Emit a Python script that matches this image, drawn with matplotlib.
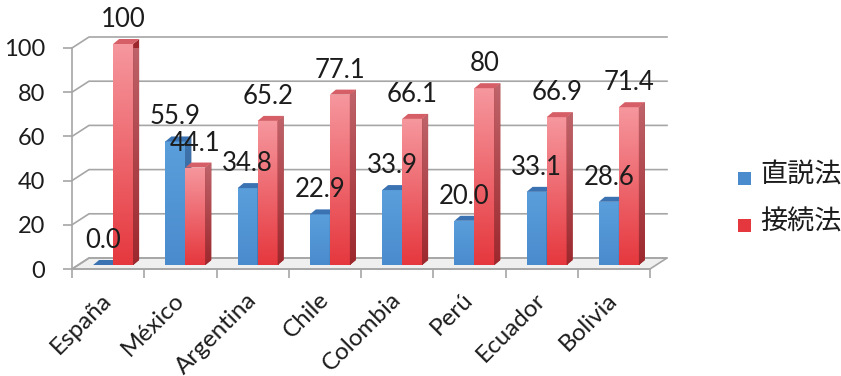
import numpy as np
import matplotlib
matplotlib.use("Agg")
import matplotlib.pyplot as plt
from matplotlib.transforms import ScaledTranslation, IdentityTransform
from matplotlib.patches import Polygon, Rectangle
from matplotlib.lines import Line2D
from matplotlib.colors import LinearSegmentedColormap

# ---- data -------------------------------------------------------------
countries = ["España", "México", "Argentina", "Chile", "Colombia", "Perú", "Ecuador", "Bolivia"]
indicativo = [0.0, 55.9, 34.8, 22.9, 33.9, 20.0, 33.1, 28.6]
subjuntivo = [100, 44.1, 65.2, 77.1, 66.1, 80, 66.9, 71.4]
series_names = ["直説法", "接続法"]
y_ticks = [0, 20, 40, 60, 80, 100]

plt.rcParams["font.family"] = ["Lato", "Noto Sans CJK JP", "DejaVu Sans"]

W, H, DPI = 841, 376, 100
GRID = "#a6a6a6"
TEXT = "#1c1c1c"
FS = 18.5

# front face colours (bottom, top), side face colours (bottom, top), top face
STYLE = [
    dict(front=("#4a8bcd", "#5a9fdc"), side=("#335f92", "#3f74ad"), top="#3b73b2"),
    dict(front=("#e5383e", "#f6979e"), side=("#9c282d", "#c0646b"), top="#d65e66"),
]

fig = plt.figure(figsize=(W / DPI, H / DPI), dpi=DPI)
ax = fig.add_axes([72 / W, 107 / H, 578 / W, 221 / H])
ax.set_xlim(-0.5, len(countries) - 0.5)
ax.set_ylim(0, 100)
ax.set_autoscale_on(False)
ax.patch.set_visible(False)

DEPTH = (17, 11)      # full depth of the 3-D box, pixels
FRONT = (5, 4)        # where the bar front faces sit inside the box
BAR_D = (6, 5)        # thickness of each bar
BAR_W = 0.277


def shifted(dx, dy):
    return ax.transData + ScaledTranslation(dx / DPI, dy / DPI, fig.dpi_scale_trans)


def to_px(x, y, dx=0.0, dy=0.0):
    px, py = ax.transData.transform((x, y))
    return (px + dx, py + dy)


x_lo, x_hi = ax.get_xlim()

# floor of the box
floor = Polygon([to_px(x_lo, 0), to_px(x_hi, 0), to_px(x_hi, 0, *DEPTH), to_px(x_lo, 0, *DEPTH)],
                closed=True, transform=IdentityTransform(), facecolor="#efefef",
                edgecolor=GRID, lw=1.2, zorder=1, clip_on=False)
ax.add_patch(floor)

# side-wall diagonals and back-wall gridlines
for v in y_ticks:
    pts = [to_px(x_lo, v), to_px(x_lo, v, *DEPTH), to_px(x_hi, v, *DEPTH)]
    xs, ys = zip(*pts)
    ax.add_line(Line2D(xs, ys, transform=IdentityTransform(), color=GRID, lw=1.2,
                       zorder=1.5, clip_on=False))

# front axes lines and ticks
for side in ["top", "right"]:
    ax.spines[side].set_visible(False)
for side in ["left", "bottom"]:
    ax.spines[side].set_color(GRID)
    ax.spines[side].set_linewidth(1.2)
    ax.spines[side].set_zorder(2)

ax.set_yticks(y_ticks)
ax.set_yticklabels([str(t) for t in y_ticks])
ax.tick_params(axis="y", length=6.5, width=1.2, color=GRID, pad=13,
               labelsize=17, labelcolor=TEXT)

ax.set_xticks(np.arange(x_lo, x_hi + 0.01, 1.0))
ax.set_xticklabels([])
ax.set_xticks(np.arange(len(countries)), minor=True)
ax.set_xticklabels(countries, minor=True, rotation=45, ha="right", va="baseline",
                   rotation_mode="anchor")
ax.tick_params(axis="x", which="major", length=6.5, width=1.2, color=GRID)
ax.tick_params(axis="x", which="minor", length=0, pad=23, labelsize=17.5, labelcolor=TEXT)
for lbl in ax.get_xticklabels(minor=True):
    lbl.set_transform(lbl.get_transform() + ScaledTranslation(5 / DPI, 0, fig.dpi_scale_trans))

# ---- bars ---------------------------------------------------------------
grad = np.linspace(0, 1, 128).reshape(-1, 1)
z = 3.0
back = (FRONT[0] + BAR_D[0], FRONT[1] + BAR_D[1])

for i in range(len(countries)):
    for s, values in enumerate([indicativo, subjuntivo]):
        v = values[i]
        st = STYLE[s]
        x0 = i - BAR_W + s * BAR_W
        x1 = x0 + BAR_W
        front_cmap = LinearSegmentedColormap.from_list("f", list(st["front"]))
        side_cmap = LinearSegmentedColormap.from_list("s", list(st["side"]))

        # front face
        bar = ax.bar([x0], [v], width=BAR_W, align="edge", color=st["front"][0],
                     linewidth=0, transform=shifted(*FRONT), zorder=z)[0]
        z += 0.01
        if v > 0:
            im = ax.imshow(grad, extent=[x0, x1, 0, v], origin="lower", cmap=front_cmap,
                           aspect="auto", interpolation="bilinear",
                           transform=shifted(*FRONT), zorder=z)
            im.set_clip_path(bar)
            z += 0.01

            # side face
            side_pts = [to_px(x1, 0, *FRONT), to_px(x1, v, *FRONT),
                        to_px(x1, v, *back), to_px(x1, 0, *back)]
            side = Polygon(side_pts, closed=True, transform=IdentityTransform(),
                           facecolor=st["side"][0], linewidth=0, zorder=z, clip_on=False)
            ax.add_patch(side)
            z += 0.01
            sx = [p[0] for p in side_pts]
            sy = [p[1] for p in side_pts]
            im2 = ax.imshow(grad, extent=[min(sx), max(sx), min(sy), max(sy)], origin="lower",
                            cmap=side_cmap, aspect="auto", interpolation="bilinear",
                            transform=IdentityTransform(), zorder=z)
            im2.set_clip_path(side)
            im2.set_clip_on(True)
            z += 0.01

        # top face
        top_pts = [to_px(x0, v, *FRONT), to_px(x1, v, *FRONT),
                   to_px(x1, v, *back), to_px(x0, v, *back)]
        ax.add_patch(Polygon(top_pts, closed=True, transform=IdentityTransform(),
                             facecolor=st["top"], linewidth=0, zorder=z, clip_on=False))
        z += 0.01

# value labels
for s, values in enumerate([indicativo, subjuntivo]):
    for i, v in enumerate(values):
        xc = i - BAR_W / 2 + s * BAR_W
        txt = f"{v:.1f}" if s == 0 else f"{v:g}"
        ax.annotate(txt, xy=(xc, v), xytext=(FRONT[0], FRONT[1] + 17),
                    textcoords="offset pixels", ha="center", va="baseline",
                    fontsize=FS, color=TEXT, zorder=20, annotation_clip=False)

# ---- legend -------------------------------------------------------------
legend_rows = [(178.5, 175), (225, 222)]
for s, (sq_y, tx_y) in enumerate(legend_rows):
    fig.patches.append(Rectangle((738 / W, (H - sq_y - 6.5) / H), 13 / W, 13 / H,
                                 transform=fig.transFigure, facecolor=STYLE[s]["front"][0],
                                 edgecolor="none"))
    fig.text(760 / W, (H - tx_y) / H, series_names[s], fontsize=19.5, color=TEXT,
             ha="left", va="center")

fig.savefig("out.png", dpi=DPI)
